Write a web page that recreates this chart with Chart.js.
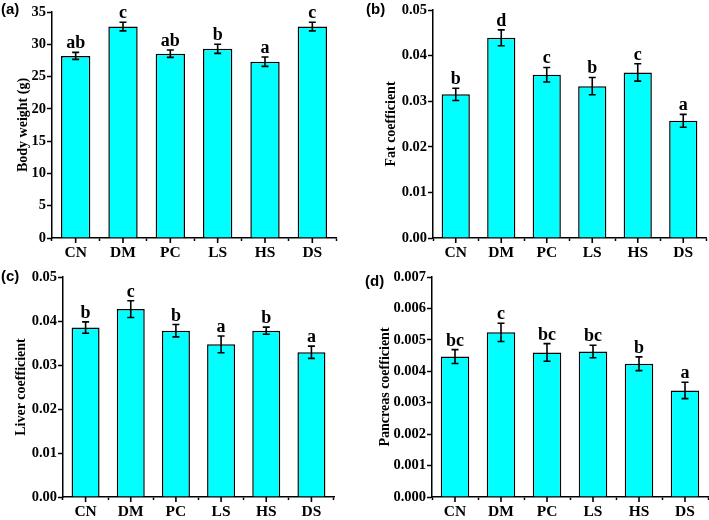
<!DOCTYPE html>
<html>
<head>
<meta charset="utf-8">
<script src="https://cdn.jsdelivr.net/npm/chart.js@4"></script>
<style>
  html, body { margin: 0; padding: 0; background: #fff; }
  #wrap { position: relative; width: 709px; height: 520px; overflow: hidden; }
  canvas { position: absolute; }
  .tag { position: absolute; font: bold 15px "Liberation Sans", Arial, sans-serif; color: #000; }
</style>
</head>
<body>
<div id="wrap">
  <canvas id="ca" width="350" height="260" style="left:0;top:0"></canvas>
  <canvas id="cb" width="359" height="260" style="left:350px;top:0"></canvas>
  <canvas id="cc" width="350" height="260" style="left:0;top:260px"></canvas>
  <canvas id="cd" width="359" height="260" style="left:350px;top:260px"></canvas>
  <div class="tag" style="left:1px;top:0px">(a)</div>
  <div class="tag" style="left:366px;top:0px">(b)</div>
  <div class="tag" style="left:1px;top:267px">(c)</div>
  <div class="tag" style="left:365px;top:272px">(d)</div>
</div>
<script>
const groups = ['CN', 'DM', 'PC', 'LS', 'HS', 'DS'];

const bodyWeight = [28.2, 32.75, 28.55, 29.3, 27.3, 32.75];
const bodyWeightErr = [0.54, 0.67, 0.57, 0.7, 0.72, 0.67];
const bodyWeightSig = ['ab', 'c', 'ab', 'b', 'a', 'c'];

const fatCoef = [0.0315, 0.0439, 0.0358, 0.0333, 0.0363, 0.0257];
const fatCoefErr = [0.00135, 0.00175, 0.0016, 0.0019, 0.0019, 0.0014];
const fatCoefSig = ['b', 'd', 'c', 'b', 'c', 'a'];

const liverCoef = [0.0385, 0.0427, 0.0378, 0.0347, 0.0378, 0.0329];
const liverCoefErr = [0.0013, 0.0019, 0.0014, 0.0019, 0.0008, 0.0014];
const liverCoefSig = ['b', 'c', 'b', 'a', 'b', 'a'];

const pancreasCoef = [0.00447, 0.00524, 0.0046, 0.00463, 0.00424, 0.00339];
const pancreasCoefErr = [0.00022, 0.00029, 0.00028, 0.0002, 0.00022, 0.00026];
const pancreasCoefSig = ['bc', 'c', 'bc', 'bc', 'b', 'a'];

const serif = '"Liberation Serif", "Times New Roman", serif';

// error bars, letters and the small centre ticks on the x axis
const errorBars = {
  id: 'errorBars',
  afterDatasetsDraw(chart, args, opts) {
    const ctx = chart.ctx;
    const xs = chart.scales.x;
    const ys = chart.scales.y;
    const vals = chart.data.datasets[0].data;
    ctx.save();
    ctx.strokeStyle = '#000';
    ctx.fillStyle = '#000';
    ctx.lineWidth = 1.6;
    vals.forEach((v, i) => {
      const x = xs.getPixelForValue(i);
      const top = ys.getPixelForValue(v + opts.err[i]);
      const bot = ys.getPixelForValue(v - opts.err[i]);
      ctx.beginPath();
      ctx.moveTo(x, top); ctx.lineTo(x, bot);
      ctx.moveTo(x - 3.5, top); ctx.lineTo(x + 3.5, top);
      ctx.moveTo(x - 3.5, bot); ctx.lineTo(x + 3.5, bot);
      // centre tick under the axis
      ctx.moveTo(x, xs.top); ctx.lineTo(x, xs.top + 5);
      ctx.stroke();
      ctx.font = 'bold 18px ' + serif;
      ctx.textAlign = 'center';
      ctx.textBaseline = 'alphabetic';
      ctx.fillText(opts.sig[i], x, top - 4);
    });
    ctx.restore();
  }
};

function makePanel(id, values, err, sig, cfg) {
  const ctx = document.getElementById(id).getContext('2d');
  return new Chart(ctx, {
    type: 'bar',
    data: {
      labels: groups,
      datasets: [{
        data: values,
        backgroundColor: '#00ffff',
        borderColor: '#000',
        borderWidth: 1.5,
        barPercentage: 0.62,
        categoryPercentage: 1,
      }],
    },
    options: {
      responsive: false,
      animation: false,
      events: [],
      layout: { padding: { top: cfg.top, right: cfg.right, left: 0, bottom: 0 } },
      plugins: {
        legend: { display: false },
        tooltip: { enabled: false },
        errorBars: { err: err, sig: sig },
      },
      scales: {
        x: {
          offset: true,
          border: { color: '#000', width: 1.5 },
          grid: { offset: true, drawOnChartArea: false, tickLength: 3, tickColor: '#000', tickWidth: 1.5 },
          ticks: { color: '#000', font: { family: serif, size: 15.5, weight: 'bold' }, padding: 3 },
          afterFit(scale) { scale.height = cfg.xh; },
        },
        y: {
          min: 0,
          max: cfg.max,
          border: { color: '#000', width: 1.5 },
          grid: { drawOnChartArea: false, tickLength: 5, tickColor: '#000', tickWidth: 1.5 },
          ticks: {
            color: '#000',
            stepSize: cfg.step,
            padding: 1,
            font: { family: serif, size: 14.5, weight: 'bold' },
            callback: (v) => v.toFixed(cfg.dec),
          },
          title: {
            display: true,
            text: cfg.title,
            color: '#000',
            font: { family: serif, size: 14, weight: 'bold' },
            padding: { top: cfg.tpad, bottom: 0 },
          },
          afterFit(scale) { scale.width = cfg.yw; },
        },
      },
    },
    plugins: [errorBars],
  });
}

makePanel('ca', bodyWeight, bodyWeightErr, bodyWeightSig,
  { title: 'Body weight (g)', max: 35, step: 5, dec: 0, top: 12, right: 14, xh: 22, yw: 52, tpad: 15 });
makePanel('cb', fatCoef, fatCoefErr, fatCoefSig,
  { title: 'Fat coefficient', max: 0.05, step: 0.01, dec: 2, top: 10, right: 3, xh: 22, yw: 83, tpad: 33 });
makePanel('cc', liverCoef, liverCoefErr, liverCoefSig,
  { title: 'Liver coefficient', max: 0.05, step: 0.01, dec: 2, top: 17, right: 16, xh: 23, yw: 63, tpad: 13 });
makePanel('cd', pancreasCoef, pancreasCoefErr, pancreasCoefSig,
  { title: 'Pancreas coefficient', max: 0.007, step: 0.001, dec: 3, top: 17, right: 1, xh: 23, yw: 82, tpad: 27 });
</script>
</body>
</html>
